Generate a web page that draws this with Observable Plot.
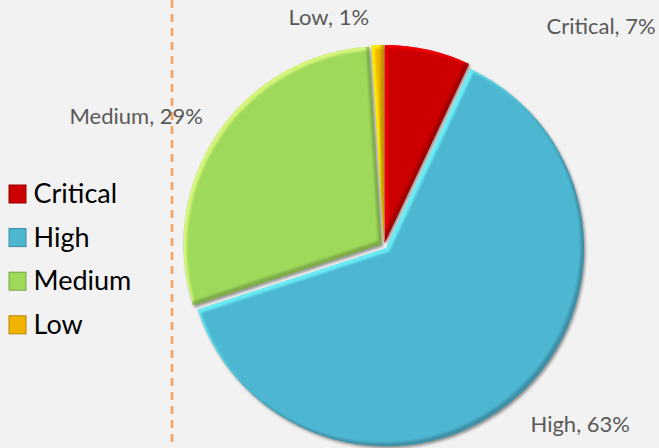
<!DOCTYPE html>
<html>
<head>
<meta charset="utf-8">
<script src="https://cdn.jsdelivr.net/npm/d3@7"></script>
<script src="https://cdn.jsdelivr.net/npm/@observablehq/plot@0.6"></script>
<style>
  html, body { margin: 0; padding: 0; background: #f2f2f2; }
  #chart svg { display: block; }
</style>
</head>
<body>
<div id="chart"></div>
<script>
// ---- data ----
const categories = ["Critical", "High", "Medium", "Low"];
const shares = [7, 63, 29, 1];
const palette = ["#cc0000", "#4db6d1", "#9ed95a", "#f0b400"];

// ---- layout (pixels) ----
const W = 659, H = 448;
const pieCenter = {x: 384, y: 246};
const radius = 198;
const explode = 3;
const dividerX = 171.5;
const legendLayout = {x: 9, swatchW: 17, swatchH: 18, top: 185, step: 43.6, textX: 33, fontSize: 27};
const labelFont = 22;
// label text start x and baseline y, per category
const labelLayout = {
  Critical: {x: 546, y: 33},
  High:     {x: 530, y: 431},
  Medium:   {x: 69,  y: 123},
  Low:      {x: 288, y: 24}
};

const data = categories.map((name, i) => ({name, share: shares[i], label: `${name}, ${shares[i]}%`}));
const legendData = data.map((d, i) => ({
  ...d,
  x1: legendLayout.x, x2: legendLayout.x + legendLayout.swatchW,
  y1: legendLayout.top + i * legendLayout.step,
  y2: legendLayout.top + i * legendLayout.step + legendLayout.swatchH,
  ty: legendLayout.top + i * legendLayout.step + legendLayout.swatchH / 2
}));
const labelData = data.map(d => ({
  ...d,
  lx: labelLayout[d.name].x,
  ly: labelLayout[d.name].y - 0.32 * labelFont
}));

function offsetContext(p, dx, dy) {
  return {
    moveTo: (x, y) => p.moveTo(x + dx, y + dy),
    lineTo: (x, y) => p.lineTo(x + dx, y + dy),
    arc: (x, y, r, a0, a1, ccw) => p.arc(x + dx, y + dy, r, a0, a1, ccw),
    closePath: () => p.closePath()
  };
}

function pieMark(index, scales, values, dimensions, context) {
  const doc = context.document;
  const ns = "http://www.w3.org/2000/svg";
  const root = d3.select(doc.createElementNS(ns, "g"));
  const cx = scales.x(pieCenter.x), cy = scales.y(pieCenter.y);
  const r = scales.x(radius) - scales.x(0);
  const arcs = d3.pie().sort(null).value(d => d.share)(data);
  const arcGen = d3.arc().innerRadius(0).outerRadius(r);

  const defs = root.append("defs");
  defs.append("filter").attr("id", "pie-blur-s").attr("x", "-20%").attr("y", "-20%").attr("width", "140%").attr("height", "140%")
    .append("feGaussianBlur").attr("stdDeviation", 1.6);
  defs.append("filter").attr("id", "pie-blur-b").attr("x", "-20%").attr("y", "-20%").attr("width", "140%").attr("height", "140%")
    .append("feGaussianBlur").attr("stdDeviation", 1.3);

  const pathAt = (a, dx, dy) => {
    const p = d3.path();
    arcGen.context(offsetContext(p, dx, dy))(a);
    arcGen.context(null);
    return p.toString();
  };
  const bigRect = `M${-2000},${-2000}H2000V2000H${-2000}Z`;

  const pos = a => {
    const mid = (a.startAngle + a.endAngle) / 2;
    return [cx + Math.sin(mid) * explode, cy - Math.cos(mid) * explode];
  };

  // shadows
  const shadow = root.append("g").attr("filter", "url(#pie-blur-s)");
  arcs.forEach(a => {
    const [x, y] = pos(a);
    shadow.append("path").attr("transform", `translate(${x + 1.5},${y + 2})`)
      .attr("d", arcGen(a)).attr("fill", "#6e6e6e").attr("fill-opacity", 0.75);
  });

  arcs.forEach((a, i) => {
    const [x, y] = pos(a);
    const col = scales.color(a.data.name);
    const g = root.append("g").attr("transform", `translate(${x},${y})`);
    defs.append("clipPath").attr("id", `pie-clip-${i}`).append("path").attr("d", arcGen(a));
    g.append("path").attr("d", arcGen(a)).attr("fill", col);
    const bev = g.append("g").attr("clip-path", `url(#pie-clip-${i})`);
    const b = 3.2;
    bev.append("path").attr("d", bigRect + pathAt(a, b, b)).attr("fill-rule", "evenodd")
      .attr("fill", d3.color(col).brighter(1.1).formatHex()).attr("fill-opacity", 0.75).attr("filter", "url(#pie-blur-b)");
    bev.append("path").attr("d", bigRect + pathAt(a, -b, -b)).attr("fill-rule", "evenodd")
      .attr("fill", d3.color(col).darker(1.2).formatHex()).attr("fill-opacity", 0.6).attr("filter", "url(#pie-blur-b)");
  });
  return root.node();
}

const chart = Plot.plot({
  width: W, height: H, margin: 0,
  x: {domain: [0, W], range: [0, W], axis: null},
  y: {domain: [0, H], range: [0, H], axis: null},
  color: {domain: categories, range: palette},
  style: {background: "#f2f2f2", overflow: "visible"},
  marks: [
    Plot.ruleX([dividerX], {stroke: "#f59a52", strokeOpacity: 0.9, strokeWidth: 2.6, strokeDasharray: "8,6"}),
    pieMark,
    Plot.rect(legendData, {x1: "x1", x2: "x2", y1: "y1", y2: "y2", fill: "name", stroke: d => d3.color(palette[categories.indexOf(d.name)]).darker(0.8).formatHex(), strokeWidth: 1, inset: 0}),
    Plot.text(legendData, {x: legendLayout.textX, y: "ty", text: "name", textAnchor: "start", lineAnchor: "middle",
      fontSize: legendLayout.fontSize, fill: "#000", fontFamily: "Lato, 'Liberation Sans', sans-serif"}),
    Plot.text(labelData, {x: "lx", y: "ly", text: "label", textAnchor: "start", lineAnchor: "middle",
      fontSize: labelFont, fill: "#595959", fontFamily: "Lato, 'Liberation Sans', sans-serif"})
  ]
});
document.getElementById("chart").append(chart);
</script>
</body>
</html>
